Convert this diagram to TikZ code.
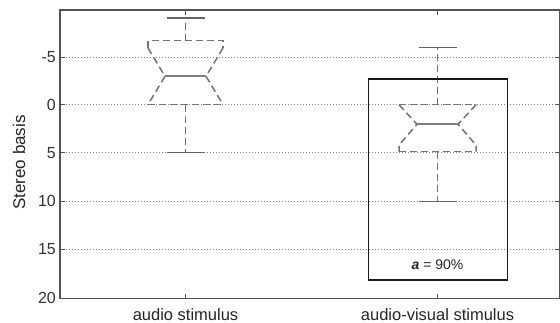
\documentclass[tikz,border=0pt]{standalone}
\usepackage{fontspec}
\setmainfont{Liberation Sans}
\begin{document}
\begin{tikzpicture}[x=1pt,y=-1pt,
  framec/.style={draw=black!68,line width=1.4pt},
  grid/.style={draw=black!50,line width=0.7pt,dash pattern=on 1pt off 2pt},
  tickl/.style={draw=black!68,line width=1pt},
  boxline/.style={draw=black!55,line width=1.5pt,dash pattern=on 7pt off 4pt},
  whisk/.style={draw=black!55,line width=1.5pt,dash pattern=on 7pt off 4pt},
  capline/.style={draw=black!60,line width=1.5pt},
  medline/.style={draw=black!50,line width=2pt},
  ylab/.style={anchor=east,font=\fontsize{16}{18}\selectfont,text=black!80,inner sep=0pt},
  xlab/.style={anchor=base,font=\fontsize{16.5}{19}\selectfont,text=black!85,inner sep=0pt},
  annbox/.style={draw=black!90,line width=1.8pt}]
\useasboundingbox (0,0) rectangle (560,322);
\fill[white] (0,0) rectangle (560,322);
% grid lines
\foreach \yy in {57,104.7,152.7,201,249}{
  \draw[grid] (60,\yy) -- (560,\yy);
}
% frame
\draw[framec] (60,10) rectangle (559.5,298.5);
% y ticks
\foreach \yy in {57,104.7,152.7,201,249}{
  \draw[tickl] (60,\yy) -- (65,\yy);
  \draw[tickl] (559.5,\yy) -- (554.5,\yy);
}
% x ticks
\foreach \xx in {185.5,437.5}{
  \draw[tickl] (\xx,298.5) -- (\xx,294);
  \draw[tickl] (\xx,10) -- (\xx,14.5);
}
% y tick labels
\node[ylab] (tm5) at (56,57) {-5};
\node[ylab] (t0) at (56,104.7) {0};
\node[ylab] (t5) at (56,152.7) {5};
\node[ylab] (t10) at (56,201) {10};
\node[ylab] (t15) at (56,249) {15};
\node[ylab] (t20) at (56,298) {20};
\node[rotate=90,font=\fontsize{17}{19}\selectfont,text=black!85,inner sep=0pt] (ylabel) at (19,162.5) {Stereo basis};
% x labels
\node[xlab] (xl1) at (185.5,320) {audio stimulus};
\node[xlab] (xl2) at (437.5,320) {audio-visual stimulus};
% ---- box 1 ----
\draw[whisk] (185.5,40.5) -- (185.5,18);
\draw[capline] (166.5,18) -- (204.5,18);
\draw[boxline] (148,48) -- (148,40.5) -- (223,40.5) -- (223,48);
\draw[boxline] (148,48) -- (165,76.3) -- (148,104.5);
\draw[boxline] (223,48) -- (206,76.3) -- (223,104.5);
\draw[boxline] (148,104.5) -- (223,104.5);
\draw[medline] (165,76.3) -- (206,76.3);
\draw[whisk] (185.5,104.5) -- (185.5,152.7);
\draw[capline] (166.5,152.7) -- (204.5,152.7);
% ---- box 2 ----
\draw[whisk] (437.5,104.7) -- (437.5,47.7);
\draw[capline] (418.5,47.7) -- (456.5,47.7);
\draw[boxline] (399,104.7) -- (476,104.7);
\draw[boxline] (399,104.7) -- (417,124.3) -- (399,145) -- (399,151.5);
\draw[boxline] (476,104.7) -- (458,124.3) -- (476,145) -- (476,151.5);
\draw[boxline] (399,151.5) -- (476,151.5);
\draw[medline] (417,124.3) -- (458,124.3);
\draw[whisk] (437.5,151.5) -- (437.5,201.3);
\draw[capline] (418.5,201.3) -- (456.5,201.3);
% annotation box
\draw[annbox] (368.5,79) rectangle (507.5,280);
\node[font=\fontsize{14}{16}\selectfont,text=black!85,inner sep=0pt] (ann) at (437.5,265) {\textbf{\textit{a}} = 90\%};
\end{tikzpicture}
\end{document}
